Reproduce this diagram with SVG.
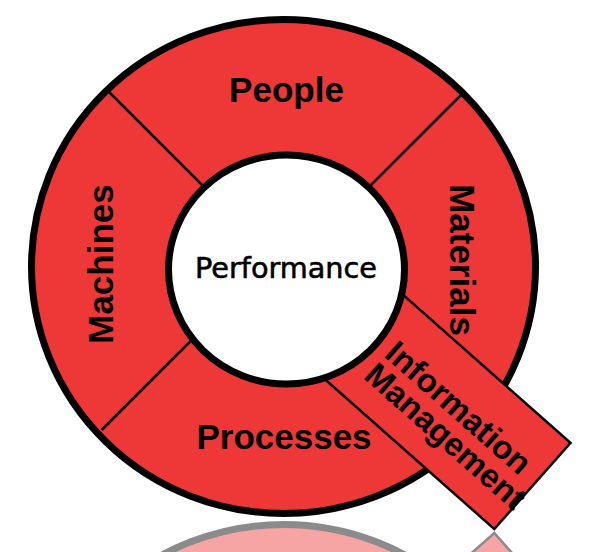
<svg xmlns="http://www.w3.org/2000/svg" xmlns:xlink="http://www.w3.org/1999/xlink" width="591" height="552" viewBox="0 0 591 552">
  <style>
    .ring { fill: #ED3837; stroke: #000; stroke-width: 7; }
    .div { stroke: #000; stroke-width: 2.5; fill: none; }
    .box { fill: #ED3837; stroke: #000; stroke-width: 2.5; stroke-linejoin: miter; }
    .lbl { font-family: "Liberation Sans", Arial, sans-serif; font-weight: bold; font-size: 35px; fill: #000; text-anchor: middle; }
    .im { font-family: "Liberation Sans", Arial, sans-serif; font-weight: bold; font-size: 33px; fill: #000; }
    .perf { font-family: "DejaVu Sans", Verdana, sans-serif; font-size: 29px; fill: #000; stroke: #000; stroke-width: 0.6; text-anchor: middle; }
  </style>
  <defs>
    <ellipse id="outer" cx="283.5" cy="266.5" rx="252" ry="247" class="ring"/>
    <rect id="imrect" x="60" y="-57.5" width="269" height="115" class="box" transform="translate(286,268) rotate(41.5)"/>
  </defs>

  <!-- reflections -->
  <g id="reflection" opacity="0.45">
    <use xlink:href="#outer" href="#outer" transform="translate(0,1038) scale(1,-1)"/>
    <use xlink:href="#imrect" href="#imrect" transform="translate(0,1062) scale(1,-1)"/>
  </g>

  <g id="ring">
    <use xlink:href="#outer" href="#outer"/>
  </g>

  <g id="connectors">
    <line class="div" x1="107" y1="90" x2="286.5" y2="269.5"/>
    <line class="div" x1="461.5" y1="94.5" x2="286.5" y2="269.5"/>
    <line class="div" x1="101.7" y1="430" x2="260" y2="271.7"/>
  </g>

  <g id="information-management">
    <use xlink:href="#imrect" href="#imrect"/>
  </g>

  <g id="performance">
    <ellipse cx="286.5" cy="269.5" rx="118" ry="114.5" fill="#fff" stroke="#000" stroke-width="7"/>
    <text class="perf" x="286" y="278" textLength="182" lengthAdjust="spacingAndGlyphs">Performance</text>
  </g>

  <g id="people">
    <text class="lbl" x="286.5" y="102">People</text>
  </g>
  <g id="materials">
    <text class="lbl" transform="translate(450,260) rotate(90)" x="0" y="0">Materials</text>
  </g>
  <g id="processes">
    <text class="lbl" x="284" y="449">Processes</text>
  </g>
  <g id="machines">
    <text class="lbl" transform="translate(113,264) rotate(-90)" x="0" y="0">Machines</text>
  </g>
  <g id="information-management-label">
    <text class="im" transform="translate(286,268) rotate(41.5)"><tspan x="131" y="1.5">Information</tspan><tspan x="130" y="31.5">Management</tspan></text>
  </g>
</svg>
